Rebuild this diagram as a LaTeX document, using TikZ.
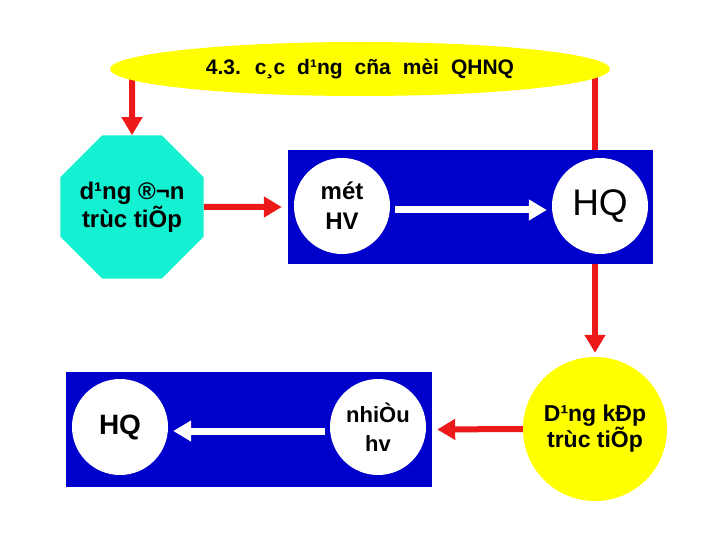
\documentclass[tikz,border=0pt]{standalone}
\usepackage{fontspec}
\setmainfont{Liberation Sans}
\usepackage{tikz}
\usetikzlibrary{arrows.meta,shapes.geometric}
\definecolor{cyellow}{RGB}{255,255,0}
\definecolor{cturq}{RGB}{20,240,210}
\definecolor{cblue}{RGB}{0,0,204}
\definecolor{cred}{RGB}{235,25,25}

\begin{document}
\begin{tikzpicture}[x=1pt,y=-1pt,
    redarrow/.style={draw=cred, line width=6pt, -{Triangle[length=18pt,width=20pt]}},
    whitearrow/.style={draw=white, line width=7pt, -{Triangle[length=18pt,width=20pt]}},
    bluebox/.style={fill=cblue, minimum width=366pt, minimum height=115pt, inner sep=0pt},
    bubble/.style={circle, fill=white, minimum size=96pt, inner sep=0pt, align=center}]
    \path[use as bounding box, fill=white] (0,0) rectangle (720,540);

    \node[regular polygon, regular polygon sides=8, fill=cturq, minimum size=155pt,
          inner sep=-12pt, align=center, font=\fontsize{24}{28}\selectfont\bfseries] (don) at (132,207)
         {d¹ng ®¬n\\trùc tiÕp};
    \node[circle, fill=cyellow, minimum size=144pt, inner sep=0pt, align=center,
          font=\fontsize{23}{26}\selectfont\bfseries] (kep) at (595,429)
         {D¹ng kÐp\\trùc tiÕp};

    % lines from the title
    \coordinate (tl) at (132,75);
    \coordinate (tr) at (595,75);
    \draw[redarrow] (tl) -- (don.north);
    \draw[redarrow, shorten >=4pt] (tr) -- (kep.north);

    % upper box
    \node[bluebox, minimum width=365pt, minimum height=114pt] (top) at (470.5,207) {};
    \node[bubble, font=\fontsize{24}{30}\selectfont\bfseries] (mot) at (342,206) {mét\\HV};
    \node[bubble, font=\fontsize{37}{40}\selectfont] (hqa) at (600,206) {HQ};
    \draw[whitearrow, shorten <=5pt, shorten >=5pt] ([yshift=-4pt]mot.east) -- ([yshift=-4pt]hqa.west);

    % lower box
    \node[bluebox] (bot) at (249,429.5) {};
    \node[bubble, font=\fontsize{28}{30}\selectfont\bfseries] (hqb) at (120,427) {HQ};
    \node[bubble, font=\fontsize{22}{29}\selectfont\bfseries] (nhieu) at (378,427) {nhiÒu\\hv};
    \draw[whitearrow, shorten <=5pt, shorten >=5pt] ([yshift=-4pt]nhieu.west) -- ([yshift=-4pt]hqb.east);

    \draw[redarrow, shorten >=6pt] (don.east) -- (top.west);
    \draw[redarrow, shorten >=5pt] (kep.west) -- (bot.east);

    \node[ellipse, fill=cyellow, minimum width=500pt, minimum height=54pt, inner sep=0pt,
          font=\fontsize{21}{24}\selectfont\bfseries] (title) at (360,69)
         {\spaceskip=12pt 4.3. c¸c d¹ng cña mèi QHNQ};
\end{tikzpicture}
\end{document}
